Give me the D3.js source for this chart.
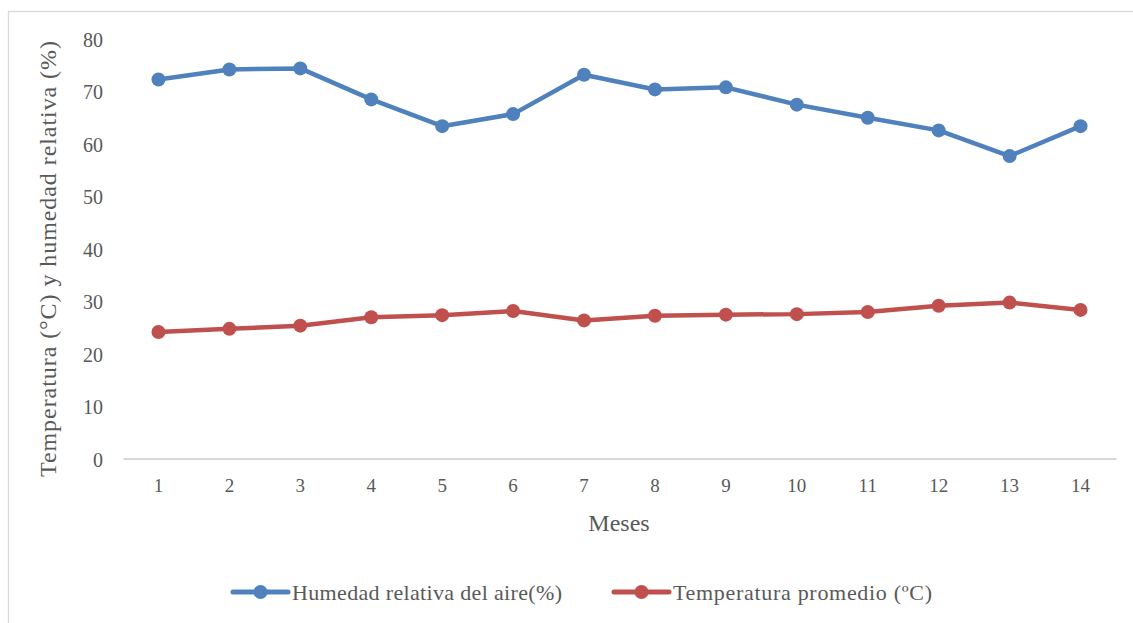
<!DOCTYPE html>
<html>
<head>
<meta charset="utf-8">
<script src="https://cdn.jsdelivr.net/npm/d3@7"></script>
<style>
  html, body { margin: 0; padding: 0; background: #fff; }
</style>
</head>
<body>
<svg id="chart" width="1133" height="623"></svg>
<script>
// Monthly series
const months = [1, 2, 3, 4, 5, 6, 7, 8, 9, 10, 11, 12, 13, 14];
const humedad = [72.2, 74.1, 74.3, 68.4, 63.3, 65.6, 73.1, 70.3, 70.7, 67.4, 64.9, 62.5, 57.6, 63.3];
const temperatura = [24.1, 24.7, 25.3, 26.9, 27.3, 28.1, 26.3, 27.2, 27.4, 27.5, 27.9, 29.1, 29.7, 28.3];
const yTicks = [0, 10, 20, 30, 40, 50, 60, 70, 80];
const seriesNames = ["Humedad relativa del aire(%)", "Temperatura promedio (ºC)"];
const seriesColors = ["#4f81bd", "#c0504d"];

const FONT = '"Liberation Serif", "Times New Roman", "DejaVu Serif", serif';
const TEXT = "#595959";

const svg = d3.select("#chart");

// Outer chart frame
svg.append("rect")
  .attr("x", 8.5).attr("y", 11.5)
  .attr("width", 1140).attr("height", 630)
  .attr("fill", "none").attr("stroke", "#d9d9d9").attr("stroke-width", 1.3);

const plot = { left: 123, right: 1116, top: 38.5, bottom: 458.5 };

const x = d3.scaleBand().domain(months).range([plot.left, plot.right]);
const y = d3.scaleLinear().domain([0, 80]).range([plot.bottom, plot.top]);
const cx = m => x(m) + x.bandwidth() / 2;

// Category axis
const xAxis = svg.append("g")
  .attr("transform", `translate(0,${plot.bottom})`)
  .call(d3.axisBottom(x).tickSize(0).tickPadding(20));
xAxis.attr("font-family", FONT).attr("font-size", 19);
xAxis.select(".domain").attr("stroke", "#d9d9d9").attr("stroke-width", 2);
xAxis.selectAll("text").attr("fill", TEXT);

// Value axis (labels only)
const yAxis = svg.append("g")
  .attr("transform", `translate(${plot.left},1.5)`)
  .call(d3.axisLeft(y).tickValues(yTicks).tickSize(0).tickPadding(20));
yAxis.attr("font-family", FONT).attr("font-size", 20);
yAxis.select(".domain").remove();
yAxis.selectAll("text").attr("fill", TEXT);

// Axis titles
svg.append("text")
  .attr("x", 619).attr("y", 531)
  .attr("text-anchor", "middle")
  .attr("font-family", FONT).attr("font-size", 24).attr("fill", TEXT)
  .text("Meses");

svg.append("text")
  .attr("transform", "translate(56,259) rotate(-90)")
  .attr("text-anchor", "middle")
  .attr("font-family", FONT).attr("font-size", 24).attr("fill", TEXT)
  .attr("textLength", 436).attr("lengthAdjust", "spacing")
  .text("Temperatura (°C) y humedad relativa (%)");

// Series lines and markers
const line = d3.line().x((d, i) => cx(months[i])).y(d => y(d));
[humedad, temperatura].forEach((vals, k) => {
  svg.append("path")
    .datum(vals)
    .attr("d", line)
    .attr("fill", "none")
    .attr("stroke", seriesColors[k])
    .attr("stroke-width", 4.5)
    .attr("stroke-linejoin", "round");
  svg.selectAll(null)
    .data(vals)
    .enter().append("circle")
    .attr("cx", (d, i) => cx(months[i]))
    .attr("cy", d => y(d))
    .attr("r", 7)
    .attr("fill", seriesColors[k]);
});

// Legend
const legendX = [232, 613];
const legendTextLen = [270, 259];
seriesNames.forEach((name, k) => {
  const g = svg.append("g").attr("transform", `translate(${legendX[k]},592)`);
  g.append("line").attr("x1", 1).attr("x2", 56).attr("y1", 0).attr("y2", 0)
    .attr("stroke", seriesColors[k]).attr("stroke-width", 5).attr("stroke-linecap", "round");
  g.append("circle").attr("cx", 28.5).attr("cy", 0).attr("r", 7).attr("fill", seriesColors[k]);
  g.append("text").attr("x", 60).attr("y", 7.5)
    .attr("font-family", FONT).attr("font-size", 22).attr("fill", TEXT)
    .attr("textLength", legendTextLen[k]).attr("lengthAdjust", "spacing")
    .text(name);
});
</script>
</body>
</html>
